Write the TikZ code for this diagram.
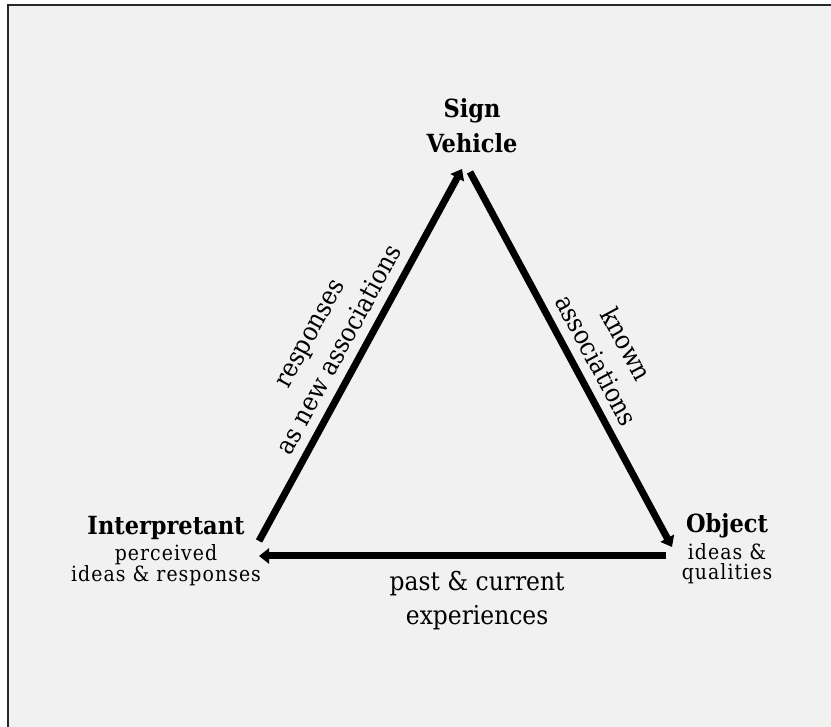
\documentclass[tikz,border=0pt]{standalone}
\usepackage{fontspec}
\setmainfont{DejaVu Serif Condensed}
\usepackage{tikz}
\usetikzlibrary{arrows.meta, positioning}
\definecolor{panel}{RGB}{241,241,241}
\definecolor{rim}{RGB}{40,40,40}

\begin{document}
\begin{tikzpicture}[x=1pt,y=1pt]
    \tikzset{
        vertex node/.style={inner sep=0, anchor=base, font=\bfseries\fontsize{25}{35}\selectfont, align=center},
        note node/.style={inner sep=0, anchor=base, font=\fontsize{21}{20}\selectfont\addfontfeature{LetterSpace=5}, align=center},
        edge note/.style={inner sep=0, font=\fontsize{26}{34}\selectfont, align=center},
        link/.style={line width=7pt, -{Triangle[length=10pt,width=15pt]}}
      }
\useasboundingbox (0,0) rectangle (831,727);
\draw[rim, line width=2pt, fill=panel] (8,722) rectangle (845,-15);
\node[vertex node] (sign) at (472,574) {Sign\\Vehicle};
\node[vertex node] (interp) at (166,192) {Interpretant};
\node[note node] (interp note) at (166,145) {perceived\\ideas \& responses};
\node[vertex node] (object) at (727,194) {Object};
\node[note node] (object note) at (727,147) {ideas \&\\qualities};
\coordinate (interp end) at (259,186);
\coordinate (sign left) at (462,558);
\coordinate (sign right) at (470,555);
\coordinate (object end) at (672,180);
\coordinate (object start) at (666,171);
\coordinate (interp start) at (259,171);
\draw[link] (interp end) -- node[edge note, sloped, above=9pt, pos=0.487]{responses\\as new associations} (sign left);
\draw[link] (sign right) -- node[edge note, sloped, above=9pt, pos=0.53]{known\\associations} (object end);
\draw[link] (object start) -- node[edge note, below=12pt, pos=0.464]{past \& current\\experiences} (interp start);
\end{tikzpicture}
\end{document}
